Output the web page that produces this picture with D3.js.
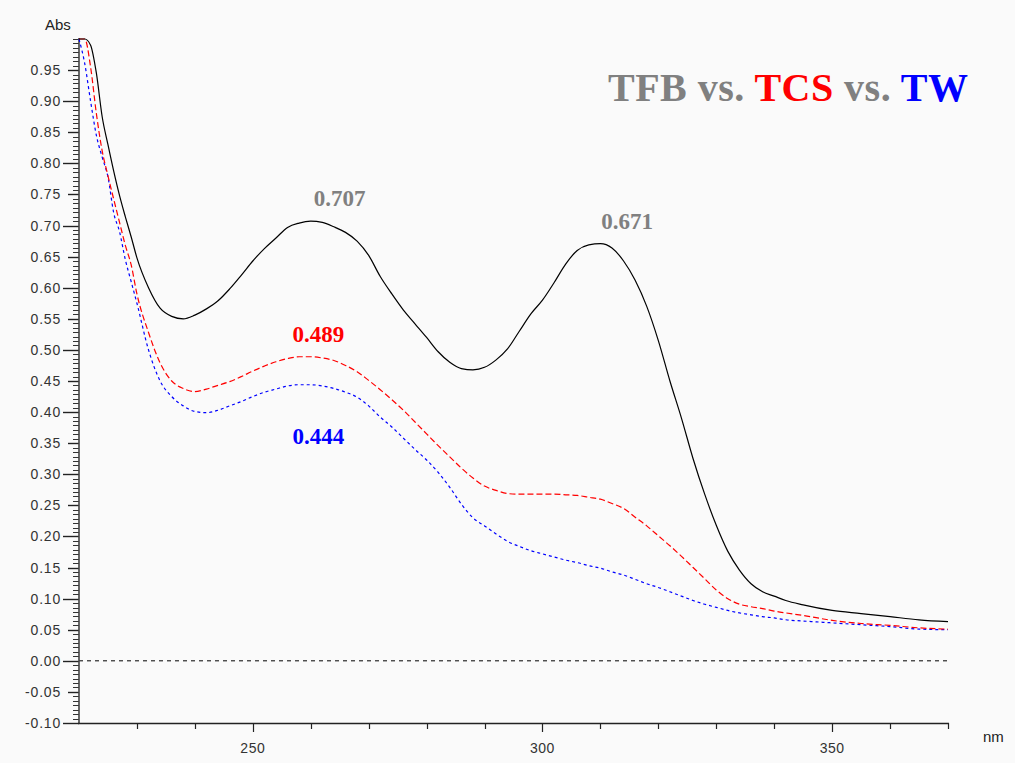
<!DOCTYPE html>
<html><head><meta charset="utf-8">
<script src="https://cdn.jsdelivr.net/npm/d3@7"></script>
<style>
html,body{margin:0;padding:0;background:#fafafa;}
svg{display:block;}
</style></head>
<body>
<svg id="chart" width="1015" height="763"></svg>
<script>
// ---- data ----
const wavelengths = [220,221,222,223,224,225,226,227,228,229,230,232,234,236,238,240,242,244,246,248,250,252,254,256,258,260,262,264,266,268,270,272,274,276,278,280,282,284,286,288,290,292,294,296,298,300,302,304,306,308,310,312,314,316,318,320,322,324,326,328,330,332,334,336,338,340,342,345,350,355,360,365,370];
const tfb = [1.000,1.000,0.990,0.945,0.875,0.830,0.787,0.748,0.714,0.682,0.648,0.600,0.567,0.554,0.550,0.556,0.566,0.579,0.598,0.620,0.643,0.663,0.680,0.697,0.704,0.707,0.705,0.698,0.689,0.675,0.652,0.618,0.590,0.564,0.542,0.520,0.497,0.480,0.470,0.468,0.472,0.484,0.502,0.530,0.558,0.580,0.608,0.638,0.660,0.669,0.671,0.664,0.643,0.612,0.570,0.515,0.450,0.390,0.325,0.268,0.218,0.176,0.146,0.124,0.111,0.104,0.097,0.090,0.081,0.076,0.071,0.066,0.063];
const tcs = [1.000,1.000,0.955,0.880,0.820,0.780,0.742,0.705,0.668,0.637,0.590,0.528,0.479,0.450,0.438,0.433,0.437,0.443,0.449,0.457,0.466,0.474,0.481,0.486,0.489,0.489,0.487,0.483,0.475,0.465,0.451,0.436,0.420,0.403,0.384,0.365,0.346,0.328,0.310,0.294,0.281,0.274,0.269,0.268,0.268,0.268,0.268,0.267,0.266,0.263,0.260,0.253,0.245,0.231,0.217,0.201,0.185,0.168,0.150,0.132,0.114,0.100,0.091,0.087,0.084,0.080,0.077,0.073,0.065,0.060,0.057,0.053,0.051];
const tw  = [1.000,0.960,0.900,0.845,0.810,0.778,0.720,0.690,0.645,0.610,0.575,0.500,0.450,0.425,0.410,0.401,0.399,0.403,0.410,0.417,0.425,0.432,0.437,0.442,0.444,0.444,0.442,0.438,0.432,0.424,0.410,0.392,0.376,0.358,0.340,0.323,0.303,0.279,0.252,0.230,0.217,0.204,0.192,0.184,0.177,0.172,0.167,0.162,0.158,0.153,0.149,0.143,0.138,0.131,0.124,0.118,0.111,0.104,0.097,0.091,0.086,0.081,0.077,0.074,0.071,0.069,0.066,0.064,0.061,0.058,0.055,0.051,0.050];
const yTickLabels = ["0.95","0.90","0.85","0.80","0.75","0.70","0.65","0.60","0.55","0.50","0.45","0.40","0.35","0.30","0.25","0.20","0.15","0.10","0.05","0.00","-0.05","-0.10"];
const xTickLabels = ["250","300","350"];
const peakLabels = [
  {text:"0.707", nm:265.0, v:0.707, color:"#808080"},
  {text:"0.671", nm:314.6, v:0.671, color:"#808080"},
  {text:"0.489", nm:261.3, v:0.489, color:"#ff0000"},
  {text:"0.444", nm:261.3, v:0.444, color:"#0000ff"}
];
const peakOffsets = [15, 15, 15, -59]; // px above point (negative = below)

// ---- scales ----
const svg = d3.select("#chart");
const x = d3.scaleLinear().domain([220,370]).range([79,948]);
const y = d3.scaleLinear().domain([-0.10,1.00]).range([723,39]);

svg.append("rect").attr("width",1015).attr("height",763).attr("fill","#fafafa");

// zero dashed line
svg.append("line").attr("x1",x(220)).attr("x2",x(370)).attr("y1",y(0)).attr("y2",y(0))
  .attr("stroke","#000").attr("stroke-width",1).attr("stroke-dasharray","4,4");

// y axis ticks
const yMinor = [];
for (let i=0;i<=22;i++){
  const base = -0.10 + i*0.05;
  for (let k=0;k<7;k++){ const v = base + k*0.05/7; if (v<=1.0001) yMinor.push(v); }
}
const gy = svg.append("g");
gy.selectAll("line.minor").data(yMinor).join("line")
  .attr("x1",73).attr("x2",79).attr("y1",d=>Math.round(y(d))+0.5).attr("y2",d=>Math.round(y(d))+0.5)
  .attr("stroke","#333").attr("stroke-width",1);
const yMajorVals = yTickLabels.map(Number);
gy.selectAll("line.major").data(yMajorVals).join("line")
  .attr("x1",d=>Math.abs(Math.round(d*100))%10===0 ? 63 : 68).attr("x2",79)
  .attr("y1",d=>Math.round(y(d))+0.5).attr("y2",d=>Math.round(y(d))+0.5)
  .attr("stroke","#222").attr("stroke-width",1.4);
gy.selectAll("text").data(yTickLabels).join("text")
  .attr("x",61).attr("y",d=>y(+d)+5).attr("text-anchor","end")
  .attr("font-family","Liberation Sans, Arial, sans-serif").attr("font-size",14)
  .attr("letter-spacing","0.8px").attr("fill","#333").text(d=>d);

// x axis ticks
const gx = svg.append("g");
const xMinor = d3.range(230,371,10);
gx.selectAll("line").data(xMinor).join("line")
  .attr("x1",d=>Math.round(x(d))+0.5).attr("x2",d=>Math.round(x(d))+0.5)
  .attr("y1",723).attr("y2",d=>d%50===0?732:729)
  .attr("stroke","#222").attr("stroke-width",1.2);
gx.selectAll("text").data(xTickLabels).join("text")
  .attr("x",d=>x(+d)).attr("y",753).attr("text-anchor","middle")
  .attr("font-family","Liberation Sans, Arial, sans-serif").attr("font-size",14)
  .attr("letter-spacing","0.5px").attr("fill","#333").text(d=>d);

// axis lines
svg.append("line").attr("x1",79).attr("x2",79).attr("y1",38).attr("y2",724)
  .attr("stroke","#444").attr("stroke-width",1.6);
svg.append("line").attr("x1",78).attr("x2",949).attr("y1",723.5).attr("y2",723.5)
  .attr("stroke","#222").attr("stroke-width",1.6);

// axis titles
svg.append("text").attr("x",45).attr("y",30).attr("font-family","Liberation Sans, Arial, sans-serif")
  .attr("font-size",15).attr("fill","#222").text("Abs");
svg.append("text").attr("x",983).attr("y",742).attr("font-family","Liberation Sans, Arial, sans-serif")
  .attr("font-size",15).attr("fill","#222").text("nm");

// curves
const line = d3.line().x((d,i)=>x(wavelengths[i])).y(d=>y(d)).curve(d3.curveMonotoneX);
svg.append("path").attr("d",line(tw)).attr("fill","none").attr("stroke","#0000ff").attr("stroke-width",1.2).attr("stroke-dasharray","3,3");
svg.append("path").attr("d",line(tcs)).attr("fill","none").attr("stroke","#ff0000").attr("stroke-width",1.2).attr("stroke-dasharray","6,3");
svg.append("path").attr("d",line(tfb)).attr("fill","none").attr("stroke","#000").attr("stroke-width",1.2);

// peak labels
svg.selectAll("text.peak").data(peakLabels).join("text").attr("class","peak")
  .attr("x",d=>x(d.nm)).attr("y",(d,i)=>y(d.v)-peakOffsets[i])
  .attr("text-anchor","middle").attr("font-family","Liberation Serif, Times New Roman, serif")
  .attr("font-weight","bold").attr("font-size",23).attr("fill",d=>d.color).text(d=>d.text);

// title
const title = svg.append("text").attr("x",608).attr("y",101)
  .attr("font-family","Liberation Serif, Times New Roman, serif").attr("font-weight","bold").attr("font-size",40)
  .attr("textLength",360).attr("lengthAdjust","spacing");
title.append("tspan").attr("fill","#808080").text("TFB vs. ");
title.append("tspan").attr("fill","#ff0000").text("TCS");
title.append("tspan").attr("fill","#808080").text(" vs. ");
title.append("tspan").attr("fill","#0000ff").text("TW");
</script>
</body></html>
